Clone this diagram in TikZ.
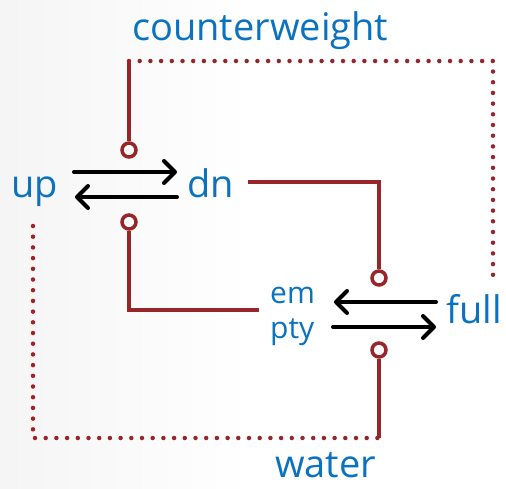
\documentclass[tikz,border=0pt]{standalone}
\usepackage{fontspec}
\setmainfont{Open Sans}
\usetikzlibrary{arrows.meta}
\definecolor{lblue}{HTML}{0B72C0}
\definecolor{dred}{HTML}{97262A}
\tikzset{
  lbl/.style={text=lblue, font=\fontsize{38}{42}\selectfont, inner sep=0pt, anchor=base west},
  small/.style={text=lblue, font=\fontsize{30}{34}\selectfont, inner sep=0pt, anchor=base west},
  redline/.style={draw=dred, line width=4pt},
  dotline/.style={draw=dred, line width=4.5pt, line cap=round, dash pattern=on 0pt off 10.7pt},
  knob/.style={circle, draw=dred, line width=3.5pt, fill=white, minimum size=14pt, inner sep=0pt},
  rarrow/.style={draw=black, line width=4pt, line cap=round, -{Straight Barb[length=11pt,width=22pt,line width=4pt,round]}}
}
\begin{document}
\begin{tikzpicture}[x=1pt,y=-1pt]
\useasboundingbox (0,0) rectangle (506,488);
\shade[left color=black!4, right color=white] (0,0) rectangle (253,488);
\fill[white] (253,0) rectangle (506,488);
% labels
\node[lbl] (cw) at (132,40) {counterweight};
\node[lbl] (up) at (11,197) {up};
\node[lbl] (dn) at (187,197) {dn};
\node[lbl] (full) at (446,323) {full};
\node[lbl] (water) at (275,477) {water};
\node[small] (em) at (270,303) {em};
\node[small] (pty) at (270,338) {pty};
% coordinates
\coordinate (cwtop) at (129,61);
\coordinate (cwr) at (493,61);
\coordinate (fullend) at (493,282);
\coordinate (upend) at (33,226);
\coordinate (botl) at (33,438);
\coordinate (botr) at (379,438);
\coordinate (dnstart) at (248,182);
\coordinate (dncorner) at (379,182);
\coordinate (lcorner) at (129,310);
\coordinate (lend) at (259,310);
\coordinate (a1s) at (74,172); \coordinate (a1e) at (177,172);
\coordinate (a2s) at (177,197); \coordinate (a2e) at (75,197);
\coordinate (a3s) at (436,302); \coordinate (a3e) at (334,302);
\coordinate (a4s) at (333,327); \coordinate (a4e) at (436,327);
% dotted
\draw[dotline] (cwtop) -- (cwr) -- (fullend);
\draw[dotline] (upend) -- (botl) -- (botr);
% knobs
\node[knob] (k1) at (129,150) {};
\node[knob] (k2) at (129,222) {};
\node[knob] (k3) at (379,278) {};
\node[knob] (k4) at (379,350) {};
% red lines
\draw[redline] (cwtop) -- (k1.north);
\draw[redline] (k2.south) -- (lcorner) -- (lend);
\draw[redline] (dnstart) -- (dncorner) -- (k3.north);
\draw[redline] (k4.south) -- (botr);
% arrows
\draw[rarrow] (a1s) -- (a1e);
\draw[rarrow] (a2s) -- (a2e);
\draw[rarrow] (a3s) -- (a3e);
\draw[rarrow] (a4s) -- (a4e);
\end{tikzpicture}
\end{document}
